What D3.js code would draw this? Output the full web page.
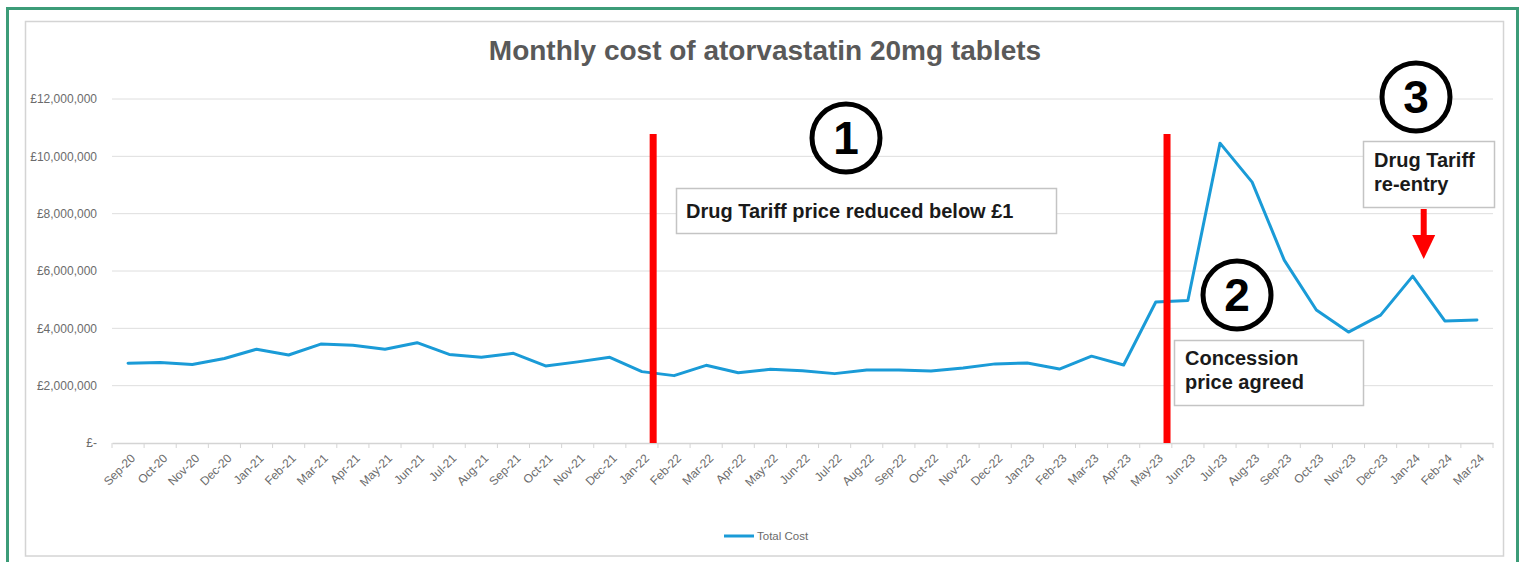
<!DOCTYPE html>
<html>
<head>
<meta charset="utf-8">
<script src="https://cdn.jsdelivr.net/npm/d3@7"></script>
<style>
  html, body { margin: 0; padding: 0; background: #ffffff; }
  svg { display: block; }
</style>
</head>
<body>
<svg id="chart" width="1519" height="562"></svg>
<script>
// Monthly spend on atorvastatin 20mg tablets, Sep 2020 – Mar 2024
const months = [
  "Sep-20","Oct-20","Nov-20","Dec-20",
  "Jan-21","Feb-21","Mar-21","Apr-21","May-21","Jun-21","Jul-21","Aug-21","Sep-21","Oct-21","Nov-21","Dec-21",
  "Jan-22","Feb-22","Mar-22","Apr-22","May-22","Jun-22","Jul-22","Aug-22","Sep-22","Oct-22","Nov-22","Dec-22",
  "Jan-23","Feb-23","Mar-23","Apr-23","May-23","Jun-23","Jul-23","Aug-23","Sep-23","Oct-23","Nov-23","Dec-23",
  "Jan-24","Feb-24","Mar-24"
];

const totalCost = [
  2780000, 2810000, 2740000, 2950000,
  3270000, 3070000, 3450000, 3410000, 3270000, 3500000, 3090000, 2990000, 3130000, 2690000, 2830000, 2990000,
  2490000, 2350000, 2710000, 2450000, 2570000, 2520000, 2420000, 2550000, 2550000, 2510000, 2620000, 2760000,
  2790000, 2580000, 3030000, 2720000, 4920000, 4970000, 10460000, 9100000, 6380000, 4640000, 3870000, 4460000,
  5820000, 4260000, 4290000
];

const yTicks = [0, 2000000, 4000000, 6000000, 8000000, 10000000, 12000000];

// Policy events: month after which a vertical marker is drawn
const events = [
  { after: "Jan-22", num: "1", lines: ["Drug Tariff price reduced below £1"] },
  { after: "May-23", num: "2", lines: ["Concession", "price agreed"] }
];

const svg = d3.select("#chart");

// frame
svg.append("rect").attr("x", 7.5).attr("y", 8.5).attr("width", 1510).attr("height", 560)
  .attr("fill", "#ffffff").attr("stroke", "#3c9c78").attr("stroke-width", 3);
svg.append("rect").attr("x", 25.5).attr("y", 21.5).attr("width", 1478).attr("height", 534.5)
  .attr("fill", "#ffffff").attr("stroke", "#d4d4d4").attr("stroke-width", 1.5);

const plot = { left: 112, right: 1493, top: 99, bottom: 443 };

const x = d3.scaleBand().domain(months).range([plot.left, plot.right]).padding(0);
const y = d3.scaleLinear().domain([0, 12000000]).range([plot.bottom, plot.top]);
const cx = m => x(m) + x.bandwidth() / 2;

const font = "Liberation Sans, Arial, sans-serif";

// title
svg.append("text").attr("x", 765).attr("y", 60).attr("text-anchor", "middle")
  .attr("font-family", font).attr("font-weight", "bold")
  .attr("font-size", 28).attr("fill", "#595959")
  .text("Monthly cost of atorvastatin 20mg tablets");

// gridlines
svg.append("g").selectAll("line").data(yTicks.filter(d => d > 0)).join("line")
  .attr("x1", plot.left).attr("x2", plot.right)
  .attr("y1", d => y(d)).attr("y2", d => y(d))
  .attr("stroke", "#dedede").attr("stroke-width", 1);

// y axis labels
const fmt = d => d === 0 ? "£-" : "£" + d3.format(",")(d);
const yAxis = d3.axisLeft(y).tickValues(yTicks).tickFormat(fmt).tickSize(0).tickPadding(15);
const gy = svg.append("g").attr("transform", `translate(${plot.left},0)`).call(yAxis);
gy.select(".domain").remove();
gy.selectAll("text").attr("font-family", font)
  .attr("font-size", 12).attr("fill", "#6b6b6b");

// x axis
const xAxis = d3.axisBottom(x).tickSize(0).tickPadding(0);
const gx = svg.append("g").attr("transform", `translate(0,${plot.bottom})`).call(xAxis);
gx.select(".domain").attr("stroke", "#d4d4d4").attr("stroke-width", 1.5);
gx.selectAll(".tick line").remove();
gx.selectAll(".tick text")
  .attr("font-family", font).attr("font-size", 12).attr("fill", "#6b6b6b")
  .attr("text-anchor", "end")
  .attr("transform", "translate(5,13) rotate(-45)")
  .attr("dy", "0.35em");
// tick marks on category boundaries
const edges = months.map(m => x(m)).concat([plot.right]);
svg.append("g").selectAll("line").data(edges).join("line")
  .attr("x1", d => d).attr("x2", d => d)
  .attr("y1", plot.bottom).attr("y2", plot.bottom + 5)
  .attr("stroke", "#d4d4d4").attr("stroke-width", 1);

// data line
const line = d3.line().x((d, i) => cx(months[i])).y(d => y(d));
svg.append("path").datum(totalCost).attr("d", line)
  .attr("fill", "none").attr("stroke", "#1a9bd7").attr("stroke-width", 3)
  .attr("stroke-linejoin", "round").attr("stroke-linecap", "round");

// vertical event markers
const markerX = m => x(m) + x.bandwidth() * 0.85;
events.forEach(e => {
  svg.append("rect").attr("x", markerX(e.after) - 3.5).attr("y", 134)
    .attr("width", 7).attr("height", plot.bottom - 134).attr("fill", "#ff0000");
});

function box(x0, y0, w, h, lines, tx, ty, lh) {
  svg.append("rect").attr("x", x0 + 0.5).attr("y", y0 + 0.5).attr("width", w).attr("height", h)
    .attr("fill", "#ffffff").attr("stroke", "#c4c4c4").attr("stroke-width", 1.5);
  lines.forEach((t, i) => {
    svg.append("text").attr("x", tx).attr("y", ty + i * lh)
      .attr("font-family", font).attr("font-weight", "bold").attr("font-size", 20)
      .attr("fill", "#1a1a1a").text(t);
  });
}

function badge(cxp, cyp, label) {
  svg.append("circle").attr("cx", cxp).attr("cy", cyp).attr("r", 34)
    .attr("fill", "#ffffff").attr("stroke", "#000000").attr("stroke-width", 5);
  svg.append("text").attr("x", cxp).attr("y", cyp + 16).attr("text-anchor", "middle")
    .attr("font-family", font).attr("font-weight", "bold").attr("font-size", 46)
    .attr("fill", "#000000").text(label);
}

// event 1
box(676, 188, 380, 45, events[0].lines, 686, 218, 0);
badge(846, 138, events[0].num);

// event 2
box(1174, 340, 189, 65, events[1].lines, 1185, 365, 24);
badge(1237, 295, events[1].num);

// event 3: Drug Tariff re-entry
box(1363, 141, 131, 66, ["Drug Tariff", "re-entry"], 1374, 167, 24);
badge(1416, 97, "3");

// arrow pointing at the Jan-24 peak
const ax = cx("Jan-24") + 11;
svg.append("rect").attr("x", ax - 3).attr("y", 209).attr("width", 6).attr("height", 28).attr("fill", "#ff0000");
svg.append("path")
  .attr("d", `M${ax - 11.5},235 L${ax + 11.5},235 L${ax},259 Z`)
  .attr("fill", "#ff0000");

// legend
svg.append("line").attr("x1", 724).attr("x2", 754).attr("y1", 536).attr("y2", 536)
  .attr("stroke", "#1a9bd7").attr("stroke-width", 3);
svg.append("text").attr("x", 757).attr("y", 540)
  .attr("font-family", font).attr("font-size", 11.5).attr("fill", "#6b6b6b").text("Total Cost");
</script>
</body>
</html>
